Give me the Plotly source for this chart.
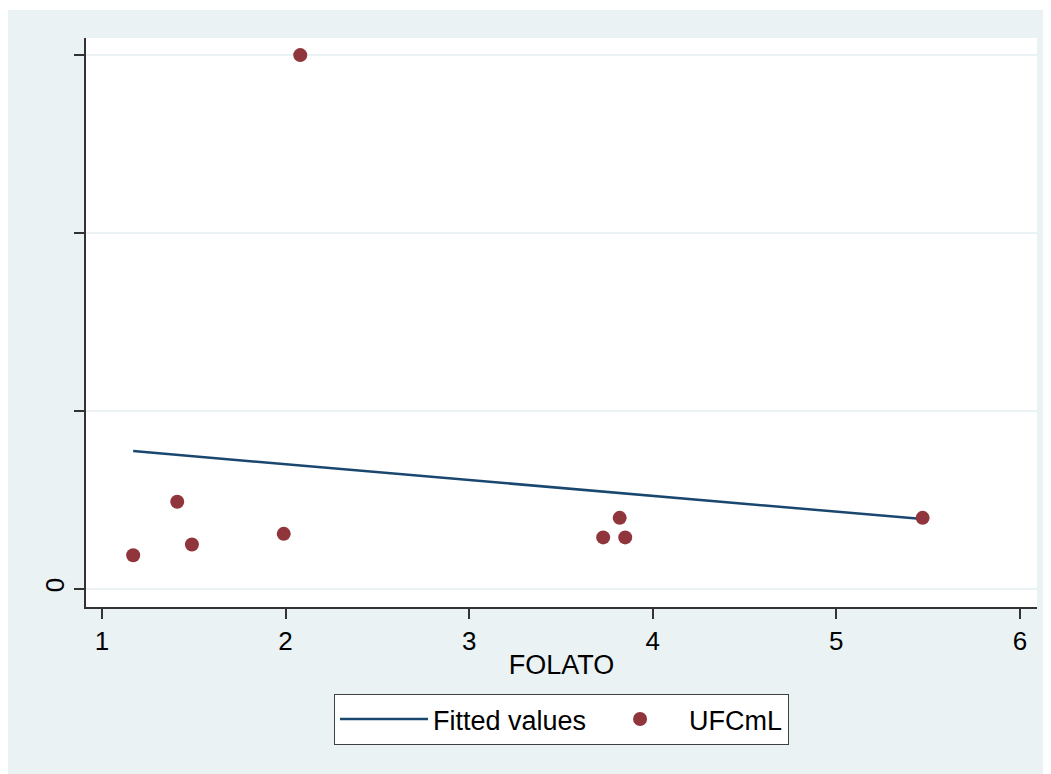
import plotly.graph_objects as go

# Data (y in units of the unlabeled tick spacing)
folato = [1.17, 1.41, 1.49, 1.99, 2.08, 3.73, 3.82, 3.85, 5.47]
ufcml = [0.19, 0.49, 0.25, 0.31, 3.00, 0.29, 0.40, 0.29, 0.40]
fitted_x = [1.17, 5.47]
fitted_y = [0.775, 0.393]

x_ticks = [1, 2, 3, 4, 5, 6]
y_ticks = [0, 1, 2, 3]
y_ticktext = ["0", "", "", ""]

BG = "#EAF2F3"
NAVY = "#1A476F"
MAROON = "#90353B"
FONT = "Liberation Sans, Arial, sans-serif"

fig = go.Figure()
fig.add_trace(go.Scatter(x=fitted_x, y=fitted_y, mode="lines", name="Fitted values",
                         line=dict(color=NAVY, width=2.5)))
fig.add_trace(go.Scatter(x=folato, y=ufcml, mode="markers", name="UFCmL",
                         marker=dict(color=MAROON, size=14, line=dict(width=0))))

# page has an 8px body margin, so the figure starts at (8, 8) on screen
OX, OY = 8, 8
W, H = 1043, 766
L, R, T, B = 78, 14, 30, 167
pw, ph = W - L - R, H - T - B

def px_to_paper_x(px):
    return (px - OX - L) / pw

def px_to_paper_y(py):
    return (H - B - (py - OY)) / ph

fig.update_layout(
    width=W, height=H,
    margin=dict(l=L, r=R, t=T, b=B),
    paper_bgcolor=BG, plot_bgcolor="white",
    font=dict(family=FONT, size=26, color="black"),
    showlegend=True,
    legend=dict(orientation="h", x=0.5, xanchor="center",
                y=px_to_paper_y(694), yanchor="top",
                bgcolor="white", bordercolor="#404040", borderwidth=1,
                font=dict(size=27), itemwidth=88, traceorder="normal"),
    xaxis=dict(range=[0.913, 6.093], tickmode="array", tickvals=x_ticks,
               showgrid=False, zeroline=False, showline=True, linecolor="#333333",
               linewidth=1.5, ticks="outside", ticklen=10, tickwidth=1.5,
               tickcolor="#333333", tickfont=dict(size=26),
               title=dict(text="FOLATO", font=dict(size=27), standoff=0)),
    yaxis=dict(range=[-0.101, 3.096], tickmode="array", tickvals=y_ticks,
               ticktext=y_ticktext, tickangle=-90,
               showgrid=True, gridcolor=BG, gridwidth=2, zeroline=False,
               showline=True, linecolor="#333333", linewidth=1.5,
               ticks="outside", ticklen=10, tickwidth=1.5, tickcolor="#333333",
               tickfont=dict(size=26)),
)

# thin white strip at the top edge of the image
fig.add_shape(type="rect", xref="paper", yref="paper", layer="above",
              x0=px_to_paper_x(0), x1=px_to_paper_x(1051),
              y0=px_to_paper_y(10), y1=px_to_paper_y(0),
              fillcolor="white", line=dict(width=0))

fig.write_html("out.html")
